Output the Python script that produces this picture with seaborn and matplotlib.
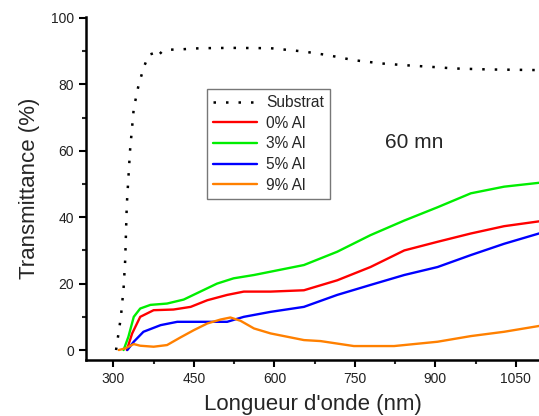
import matplotlib
matplotlib.use("Agg")
import matplotlib.pyplot as plt
import seaborn as sns
import pandas as pd
from matplotlib.ticker import MultipleLocator

# ---- data ----
sub_x = [305, 310, 314, 319, 322, 325, 331, 338, 347, 357, 366, 375, 381, 390, 397,
         430, 462, 520, 593, 655, 700, 748, 800, 842, 900, 935, 1000, 1050, 1095]
sub_y = [0, 5.5, 10, 18.6, 27, 43.7, 60, 72.8, 79.8, 85.3, 88.9, 89.4, 88.3, 89.8, 90.4,
         90.6, 90.9, 91.0, 90.9, 89.9, 88.8, 87.3, 86.3, 85.8, 85.2, 84.8, 84.5, 84.4, 84.3]

al0_x = [325, 335, 350, 375, 412, 444, 475, 512, 543, 593, 655, 717, 779, 842, 904, 966, 1028, 1095]
al0_y = [0, 5, 10, 12, 12.2, 13, 15, 16.6, 17.6, 17.6, 18, 21, 25, 30, 32.6, 35.1, 37.3, 38.8]

al3_x = [319, 328, 338, 350, 369, 400, 431, 462, 493, 524, 562, 593, 655, 717, 779, 842, 904, 966, 1028, 1095]
al3_y = [0, 4, 10, 12.5, 13.6, 14, 15.2, 17.6, 20, 21.6, 22.6, 23.6, 25.6, 29.6, 34.6, 39, 43, 47.2, 49.2, 50.4]

al5_x = [326, 338, 356, 388, 419, 450, 512, 543, 593, 655, 717, 779, 842, 904, 966, 1028, 1095]
al5_y = [0, 2.5, 5.5, 7.5, 8.5, 8.5, 8.5, 10, 11.5, 13, 16.6, 19.6, 22.6, 25, 28.6, 32, 35.2]

al9_x = [310, 322, 338, 350, 375, 400, 425, 450, 475, 500, 518, 537, 562, 593, 655, 686, 748, 823, 904, 966, 1028, 1095]
al9_y = [0, 0.5, 1.8, 1.3, 1.0, 1.5, 3.8, 6, 8, 9.2, 9.8, 8.8, 6.5, 5, 3, 2.7, 1.2, 1.2, 2.5, 4.2, 5.5, 7.3]

labels = ["Substrat", "0% Al", "3% Al", "5% Al", "9% Al"]
colors = ["black", "#ff0000", "#00ee00", "#0000ff", "#ff8000"]
x_ticks = [300, 450, 600, 750, 900, 1050]
y_ticks = [0, 20, 40, 60, 80, 100]

sns.set_style("ticks")
plt.rcParams['font.family'] = ['Liberation Sans', 'DejaVu Sans']

fig = plt.figure(figsize=(5.39, 4.16), dpi=100)
ax = fig.add_axes([86 / 539, 1 - 360 / 416, 1 - 86 / 539, (360 - 17) / 416])

series = [(sub_x, sub_y), (al0_x, al0_y), (al3_x, al3_y), (al5_x, al5_y), (al9_x, al9_y)]
for i, ((xs, ys), lab, col) in enumerate(zip(series, labels, colors)):
    df = pd.DataFrame({"x": xs, "y": ys})
    if i == 0:
        sns.lineplot(data=df, x="x", y="y", ax=ax, color=col, label=lab,
                     linestyle=(0, (1, 4)), linewidth=1.8, clip_on=False)
    else:
        sns.lineplot(data=df, x="x", y="y", ax=ax, color=col, label=lab,
                     linewidth=1.7, clip_on=True)

ax.set_xlim(249, 1093)
ax.set_ylim(-3, 100.3)
ax.set_xticks(x_ticks)
ax.set_yticks(y_ticks)
ax.xaxis.set_minor_locator(MultipleLocator(75))
ax.yaxis.set_minor_locator(MultipleLocator(10))
ax.tick_params(axis="both", which="major", direction="out", length=5, width=1.5,
               labelsize=10, colors="black", labelcolor="#222222")
ax.tick_params(axis="both", which="minor", direction="out", length=3, width=1.5)
for s in ["top", "right"]:
    ax.spines[s].set_visible(False)
for s in ["left", "bottom"]:
    ax.spines[s].set_linewidth(1.8)
    ax.spines[s].set_color("black")

ax.set_xlabel("Longueur d'onde (nm)", fontsize=16, labelpad=6)
ax.set_ylabel("Transmittance (%)", fontsize=16, labelpad=8)

leg = ax.legend(loc="upper left", bbox_to_anchor=((207 - 86) / 453, 1 - (89 - 17) / 343),
                fontsize=11.2, frameon=True, fancybox=False, handlelength=2.8,
                borderpad=0.4, labelspacing=0.36, handletextpad=0.6, borderaxespad=0)
leg.get_frame().set_edgecolor("#555555")
leg.get_frame().set_linewidth(1.0)

fig.text(414 / 539, 1 - 142 / 416, "60 mn", fontsize=15, ha="center", va="center")

fig.savefig("out.png", dpi=100)
